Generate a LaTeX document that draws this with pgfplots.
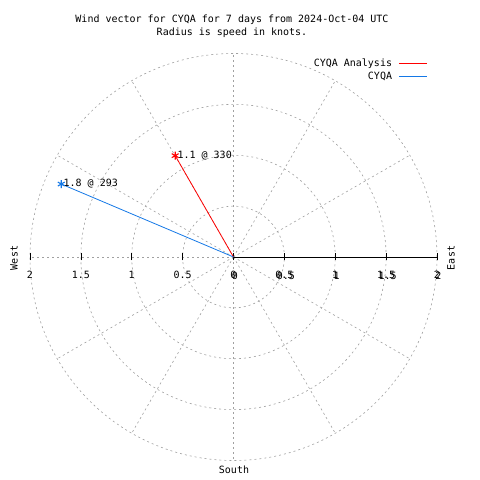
\documentclass[border=0pt]{standalone}
\usepackage{pgfplots}
\pgfplotsset{compat=1.18}
\usepackage{fontspec}
\setmainfont{DejaVu Sans Mono}
\setmonofont{DejaVu Sans Mono}
\definecolor{anared}{RGB}{255,0,0}
\definecolor{obsblue}{RGB}{20,120,230}
\definecolor{gridgray}{RGB}{160,160,160}
\pgfplotsset{legend image code/.code={%
  \draw[#1, line width=0.8bp] (0bp,0bp) -- (28bp,0bp);}}
\begin{document}
\begin{tikzpicture}[font=\fontsize{10bp}{12bp}\selectfont]
\useasboundingbox (0,0) rectangle (480bp,480bp);
\begin{scope}[shift={(233.5bp,223bp)}]
  \foreach \r in {0.5,1,1.5,2}
    \draw[gridgray, dash pattern=on 2bp off 3bp, line width=0.6bp] (0,0) circle[radius=\r*101.75bp];
  \foreach \a in {30,60,...,330}
    \draw[gridgray, dash pattern=on 2bp off 3bp, line width=0.6bp] (0,0) -- (\a:203.5bp);
  \draw[black, line width=0.7bp] (0,0) -- (203.5bp,0);
\end{scope}
\begin{axis}[
  at={(233.5bp,223bp)}, anchor=center,
  scale only axis, width=407bp, height=407bp,
  xmin=-2, xmax=2, ymin=-2, ymax=2,
  axis x line=middle, axis y line=none,
  x axis line style={draw=none},
  hide obscured x ticks=false,
  xtick={-2,-1.5,-1,-0.5,0,0.5,1,1.5,2},
  xticklabels={2,1.5,1,0.5,0,0.5,1,1.5,2},
  extra x ticks={0,0.5,1,1.5,2},
  extra x tick labels={0,0.5,1,1.5,2},
  extra x tick style={major tick length=0pt, tick label style={yshift=-5bp, xshift=1.5bp}},
  tick align=center, major tick length=7bp,
  tick style={black, line width=0.6bp},
  tick label style={font=\fontsize{10bp}{12bp}\selectfont, text=black, yshift=-7bp},
  clip=false,
  legend plot pos=right,
  legend cell align=right,
  legend style={at={(0.978,0.992)}, anchor=north east, draw=none, fill=none,
    font=\fontsize{10bp}{12bp}\selectfont, row sep=0bp, column sep=5bp, inner sep=0pt},
]
\addplot[anared, line width=0.8bp, mark=asterisk, mark size=4bp, mark indices={2},
  mark options={line width=1.1bp}]
  coordinates {(0,0) (-0.573,0.996)}
  node[pos=1, anchor=west, inner sep=0pt, xshift=2bp, text=black] {1.1 @ 330};
\addlegendentry{CYQA Analysis}
\addplot[obsblue, line width=0.8bp, mark=asterisk, mark size=4bp, mark indices={2},
  mark options={line width=1.1bp}]
  coordinates {(0,0) (-1.693,0.717)}
  node[pos=1, anchor=west, inner sep=0pt, xshift=2bp, text=black] {1.8 @ 293};
\addlegendentry{CYQA}
\end{axis}
\node[rotate=90] at (14bp,222bp) {West};
\node[rotate=90] at (451bp,222bp) {East};
\node at (234bp,10bp) {South};
\node at (232bp,460bp) {Wind vector for CYQA for 7 days from 2024-Oct-04 UTC};
\node at (232bp,447bp) {Radius is speed in knots.};
\end{tikzpicture}
\end{document}
